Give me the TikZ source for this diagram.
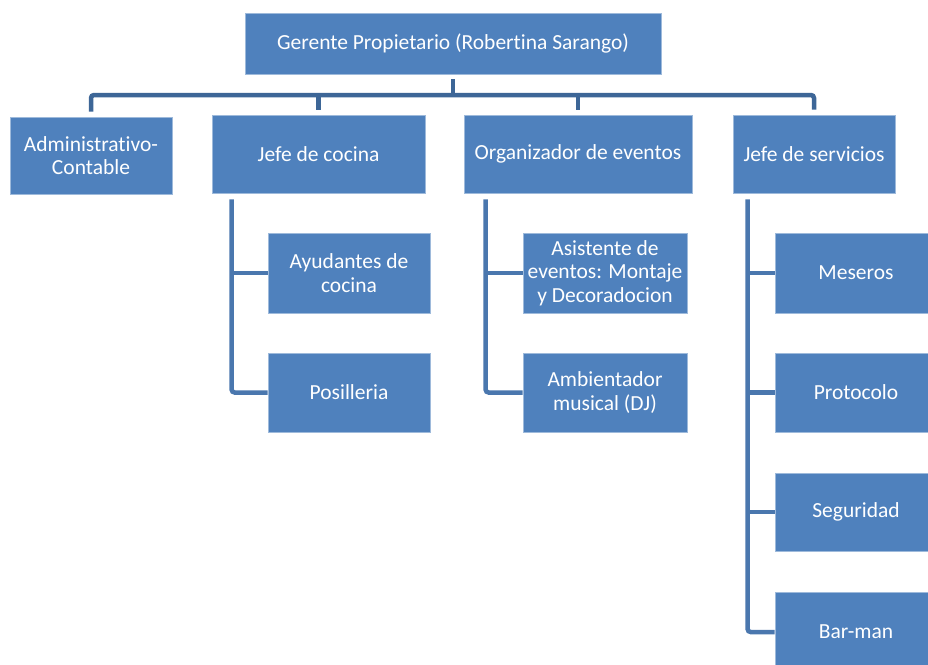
\documentclass[tikz,border=0pt]{standalone}
\usepackage{fontspec}
\setmainfont{Carlito}[Ligatures=NoCommon]
\definecolor{boxblue}{HTML}{4F81BD}
\definecolor{linetop}{HTML}{3D6697}
\definecolor{linesub}{HTML}{4A77AE}
\begin{document}
\begin{tikzpicture}[x=1pt, y=-1pt,
    box/.style={fill=boxblue, draw=boxblue!55!white, line width=0.8pt, text=white,
        align=center, inner sep=2pt, font=\fontsize{21.5}{23.5}\selectfont},
    conn/.style={draw=linetop, line width=4.5pt, rounded corners=3pt},
    sub/.style={draw=linesub, line width=4.5pt, rounded corners=3pt}]
    \useasboundingbox (0,0) rectangle (928,664);
    \clip (0,0) rectangle (928,664);
    \fill[white] (0,0) rectangle (928,664);

    % Gerente
    \node[box, minimum width=416pt, minimum height=61pt] (ger) at (453,43.5) {Gerente Propietario (Robertina Sarango)};

    % Jefes (first level)
    \node[box, minimum width=162pt, minimum height=77pt] (adm) at (91,155.5) {Administrativo-\\Contable};
    \node[box, minimum width=213pt, minimum height=78pt] (coc) at (318.5,154) {Jefe de cocina};
    \node[box, minimum width=228pt, minimum height=78pt] (org) at (578,154) {Organizador de eventos};
    \node[box, minimum width=162pt, minimum height=78pt] (srv) at (814,154) {Jefe de servicios};

    % Cocina
    \node[box, minimum width=162pt, minimum height=80pt] (ayu) at (349,273) {Ayudantes de\\cocina};
    \node[box, minimum width=162pt, minimum height=79pt] (pos) at (349,392.5) {Posilleria};

    % Eventos
    \node[box, minimum width=164pt, minimum height=80pt] (asi) at (605,273) {Asistente de\\eventos: Montaje\\y Decoradocion};
    \node[box, minimum width=164pt, minimum height=79pt] (amb) at (605,392.5) {Ambientador\\musical (DJ)};

    % Servicios
    \node[box, minimum width=162pt, minimum height=80pt] (mes) at (856,273) {Meseros};
    \node[box, minimum width=162pt, minimum height=79pt] (pro) at (856,392.5) {Protocolo};
    \node[box, minimum width=162pt, minimum height=78pt] (seg) at (856,512) {Seguridad};
    \node[box, minimum width=162pt, minimum height=80pt] (bar) at (856,632) {Bar-man};

    % Top connectors
    \coordinate (bus) at (453,95);
    \draw[conn] ([yshift=-5pt]ger.south) -- (bus);
    \draw[conn] ([yshift=5pt]adm.north) |- (bus) -| ([yshift=5pt]srv.north);
    \draw[conn] ([yshift=5pt]coc.north) -- (coc.north |- bus);
    \draw[conn] ([yshift=5pt]org.north) -- (org.north |- bus);

    % Sub connectors
    \draw[sub] ([xshift=20pt,yshift=-6pt]coc.south west) |- (pos.west);
    \draw[sub] ([xshift=20pt]coc.south west |- ayu.west) -- (ayu.west);
    \draw[sub] ([xshift=22pt,yshift=-6pt]org.south west) |- (amb.west);
    \draw[sub] ([xshift=22pt]org.south west |- asi.west) -- (asi.west);
    \draw[sub] ([xshift=15pt,yshift=-6pt]srv.south west) |- (bar.west);
    \foreach \n in {mes,pro,seg}
        \draw[sub] ([xshift=15pt]srv.south west |- \n.west) -- (\n.west);
\end{tikzpicture}
\end{document}
